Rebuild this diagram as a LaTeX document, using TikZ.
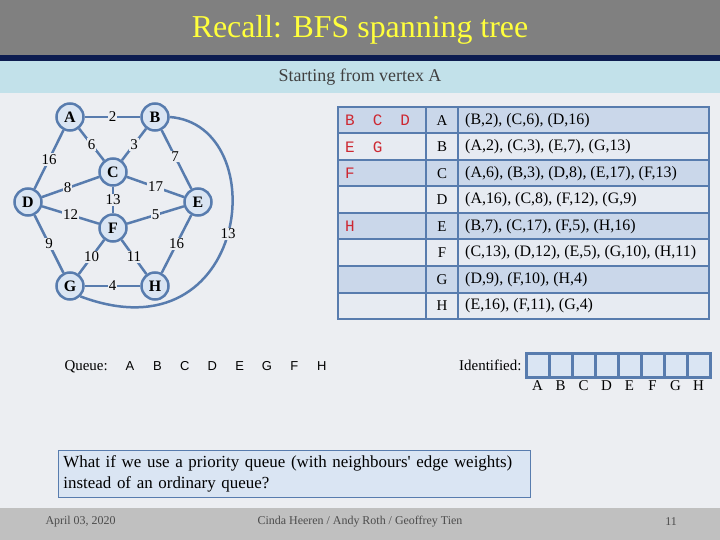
\documentclass[tikz,border=0pt]{standalone}
\usepackage{fontspec}
\setmainfont{Liberation Serif}
\setsansfont{Liberation Sans}
\setmonofont{Liberation Mono}
\newfontfamily\qfont[WordSpace=0.75]{Liberation Serif}
\usetikzlibrary{positioning}
\definecolor{slidebg}{RGB}{236,238,242}
\definecolor{titlegray}{RGB}{128,128,128}
\definecolor{titlenavy}{RGB}{12,28,80}
\definecolor{bandcyan}{RGB}{194,225,234}
\definecolor{footgray}{RGB}{192,192,192}
\definecolor{edgeblue}{RGB}{88,124,174}
\definecolor{nodefill}{RGB}{218,229,243}
\definecolor{rowdark}{RGB}{202,215,234}
\definecolor{rowlight}{RGB}{231,235,242}
\definecolor{parentred}{RGB}{205,40,50}
\definecolor{titleyellow}{RGB}{255,255,60}
\newcommand{\fsz}[1]{\fontsize{#1}{#1}\selectfont}

\begin{document}
\begin{tikzpicture}[
    x=1bp,y=-1bp,
    vertex/.style={circle,draw=edgeblue,fill=nodefill,line width=2.5bp,
      minimum size=27bp,inner sep=0pt,font=\fsz{16}\bfseries},
    edge/.style={draw=edgeblue,line width=2.5bp},
    weight/.style={fill=slidebg,inner sep=1bp,font=\fsz{15}},
    cellbox/.style={draw=edgeblue,line width=2bp},
    found/.style={anchor=west,inner sep=0pt,text=parentred,font=\ttfamily\fsz{16}},
    keycell/.style={font=\fsz{15}},
    adjlist/.style={anchor=west,inner sep=0pt,font=\fsz{16}},
    idbox/.style={rectangle,draw=edgeblue,fill=nodefill,line width=3bp,
      minimum width=23bp,minimum height=24bp,inner sep=0pt},
    foot/.style={font=\fsz{12},text=black!70}
  ]
    \fill[slidebg] (0,0) rectangle (720,540);
    \useasboundingbox (0,0) rectangle (720,540);
    % slide frame
    \fill[titlegray] (0,0) rectangle (720,55);
    \fill[titlenavy] (0,55) rectangle (720,61);
    \fill[bandcyan] (0,61) rectangle (720,93);
    \fill[footgray] (0,508) rectangle (720,540);
    \node[font=\fsz{32},text=titleyellow] (title) at (360,30) {Recall: BFS spanning tree};
    \node[font=\fsz{18},text=black!75] (subtitle) at (360,77) {Starting from vertex A};

    % graph
    \node[vertex] (A) at (70,117) {A};
    \node[vertex] (B) at (155,117) {B};
    \node[vertex] (C) at (113,172) {C};
    \node[vertex] (D) at (28,202) {D};
    \node[vertex] (E) at (198,202) {E};
    \node[vertex] (F) at (113,228) {F};
    \node[vertex] (G) at (70,286) {G};
    \node[vertex] (H) at (155,286) {H};

    \draw[edge] (A) -- node[weight] {2} (B);
    \draw[edge] (A) -- node[weight] {6} (C);
    \draw[edge] (A) -- node[weight] {16} (D);
    \draw[edge] (B) -- node[weight] {3} (C);
    \draw[edge] (B) -- node[weight,pos=0.45] {7} (E);
    \draw[edge] (C) -- node[weight,pos=0.55] {8} (D);
    \draw[edge] (C) -- node[weight] {17} (E);
    \draw[edge] (C) -- node[weight] {13} (F);
    \draw[edge] (D) -- node[weight] {12} (F);
    \draw[edge] (E) -- node[weight] {5} (F);
    \draw[edge] (D) -- node[weight] {9} (G);
    \draw[edge] (F) -- node[weight] {10} (G);
    \draw[edge] (F) -- node[weight] {11} (H);
    \draw[edge] (E) -- node[weight] {16} (H);
    \draw[edge] (G) -- node[weight] {4} (H);
    \draw[edge] (B.east) .. controls (275,125) and (250,360) .. node[weight] {13} (G.south east);

    % adjacency table
    \foreach \vtx/\adj/\seen/\rowcol [count=\i from 0] in {
        A/{(B,2), (C,6), (D,16)}/{B\hspace{18bp}C\hspace{18bp}D}/rowdark,
        B/{(A,2), (C,3), (E,7), (G,13)}/{E\hspace{18bp}G}/rowlight,
        C/{(A,6), (B,3), (D,8), (E,17), (F,13)}/{F}/rowdark,
        D/{(A,16), (C,8), (F,12), (G,9)}/{}/rowlight,
        E/{(B,7), (C,17), (F,5), (H,16)}/{H}/rowdark,
        F/{(C,13), (D,12), (E,5), (G,10), (H,11)}/{}/rowlight,
        G/{(D,9), (F,10), (H,4)}/{}/rowdark,
        H/{(E,16), (F,11), (G,4)}/{}/rowlight}
    {
      \pgfmathsetmacro{\yt}{107+26.5*\i}
      \fill[\rowcol] (338,\yt) rectangle (709,\yt+26.5);
      \node[found] (seen-\vtx) at (345,\yt+13.25) {\seen};
      \node[keycell] (key-\vtx) at (442,\yt+13.25) {\vtx};
      \node[adjlist] (adj-\vtx) at (465,\yt+13.25) {\adj};
    }
    \foreach \i in {1,...,7}
      \draw[cellbox] (338,107+26.5*\i) -- (709,107+26.5*\i);
    \draw[cellbox] (426,107) -- (426,319);
    \draw[cellbox] (458,107) -- (458,319);
    \draw[cellbox] (338,107) rectangle (709,319);

    % queue
    \node[font=\fsz{15},anchor=west] (queue) at (61,367) {Queue:};
    \foreach \q [count=\k from 0] in {A,B,C,D,E,G,F,H}
      \node[font=\sffamily\fsz{13}] (q-\k) at (130+27.4*\k,366) {\q};

    % identified
    \node[font=\fsz{15},anchor=east] (ident) at (525,365) {Identified:};
    \foreach \v [count=\k from 0] in {A,B,C,D,E,F,G,H} {
      \node[idbox] (id-\v) at (537.5+23*\k,365) {};
      \node[font=\fsz{15}] (idl-\v) at (537.5+23*\k,386) {\v};
    }

    % question
    \node[draw=edgeblue,fill=nodefill,line width=0.8bp,anchor=north west,
      minimum width=472bp,minimum height=47bp,text width=462bp,inner xsep=5bp,
      align=left,font=\qfont\fontsize{17}{21}\selectfont] (question) at (58,450)
      {\mbox{What if we use a priority queue (with neighbours\textquotesingle{} edge weights)}\\instead of an ordinary queue?};

    % footer
    \node[foot,anchor=west] (date) at (42,522) {April 03, 2020};
    \node[foot] (authors) at (360,522) {Cinda Heeren / Andy Roth / Geoffrey Tien};
    \node[foot] (pageno) at (671,522) {11};
  \end{tikzpicture}
\end{document}
